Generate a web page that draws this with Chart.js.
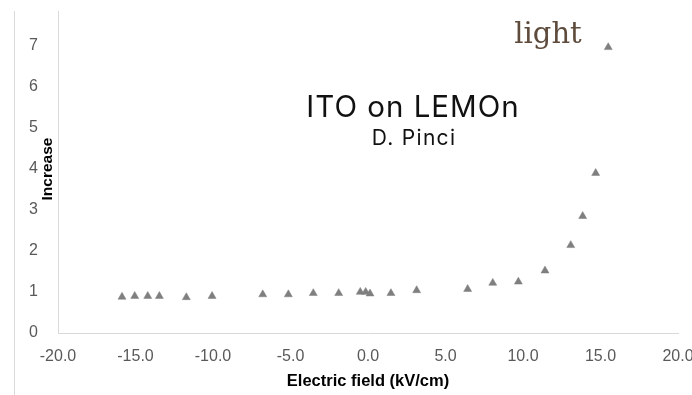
<!DOCTYPE html>
<html>
<head>
<meta charset="utf-8">
<script src="https://cdn.jsdelivr.net/npm/chart.js@4/dist/chart.umd.min.js"></script>
<style>
  html, body { margin: 0; padding: 0; background: #fff; }
  #wrap { position: relative; width: 692px; height: 395px; overflow: hidden; }
  #c { position: absolute; left: 0; top: 0; }
  #mask { position: absolute; left: 0; top: 0; width: 692px; height: 11px; background: #fff; }
  #border { position: absolute; left: 14px; top: 11px; width: 1px; height: 384px; background: #d9d9d9; }
  .t { position: absolute; white-space: nowrap; transform: translate(-50%, -50%); }
  #light { left: 548px; top: 33px; font-family: "DejaVu Serif", serif; font-size: 29px; color: #5e4b3c; }
  #title { left: 413px; top: 106px; font-family: "Inter", sans-serif; font-size: 29.5px; font-weight: 400; letter-spacing: 1px; color: #111; }
  #sub { left: 414px; top: 137px; font-family: "Inter", sans-serif; font-size: 21px; font-weight: 400; letter-spacing: 1.3px; color: #111; }
</style>
</head>
<body>
<div id="wrap">
  <canvas id="c" width="692" height="395"></canvas>
  <div id="mask"></div>
  <div id="border"></div>
  <div class="t" id="light">light</div>
  <div class="t" id="title">ITO on LEMOn</div>
  <div class="t" id="sub">D. Pinci</div>
</div>
<script>
// Electric field (kV/cm)
const fieldValues = [-15.87, -15.05, -14.21, -13.46, -11.72, -10.06, -6.79, -5.14, -3.53, -1.89, -0.50, -0.15, 0.13, 1.48, 3.14, 6.43, 8.05, 9.70, 11.42, 13.08, 13.85, 14.69, 15.50];
// Increase
const increaseValues = [0.88, 0.90, 0.90, 0.90, 0.87, 0.90, 0.94, 0.94, 0.97, 0.97, 1.00, 1.00, 0.96, 0.97, 1.04, 1.07, 1.22, 1.25, 1.52, 2.14, 2.85, 3.90, 6.97];
const xTickMin = -20, xTickMax = 20, xTickStep = 5;
const yTickMin = 0, yTickMax = 8, yTickStep = 1;
const xTitle = "Electric field (kV/cm)";
const yTitle = "Increase";

const points = fieldValues.map((x, i) => ({ x: x, y: increaseValues[i] }));

new Chart(document.getElementById('c'), {
  type: 'scatter',
  data: {
    datasets: [{
      data: points,
      pointStyle: 'triangle',
      pointRadius: 4.6,
      pointBackgroundColor: '#7f7f7f',
      pointBorderColor: '#7f7f7f',
      pointBorderWidth: 0.5
    }]
  },
  options: {
    responsive: false,
    animation: false,
    layout: { padding: { top: 4, right: 14, left: 0, bottom: 0 } },
    plugins: { legend: { display: false }, tooltip: { enabled: false } },
    scales: {
      x: {
        type: 'linear',
        min: xTickMin, max: xTickMax,
        grid: { display: false, drawTicks: false },
        border: { display: true, color: '#d9d9d9', width: 1 },
        ticks: {
          stepSize: xTickStep,
          padding: 14,
          color: '#595959',
          font: { family: 'Liberation Sans', size: 16 },
          maxRotation: 0,
          callback: v => Number(v).toFixed(1)
        },
        title: {
          display: true, text: xTitle, color: '#000',
          font: { family: 'Liberation Sans', size: 16.5, weight: 'bold' },
          padding: { top: 0, bottom: 4 }
        },
        afterFit: s => { s.height = 62; s.paddingLeft = 0; s.paddingRight = 0; }
      },
      y: {
        type: 'linear',
        min: yTickMin, max: yTickMax,
        grid: { display: false, drawTicks: false },
        border: { display: true, color: '#d9d9d9', width: 1 },
        ticks: {
          stepSize: yTickStep,
          padding: 20,
          color: '#595959',
          font: { family: 'Liberation Sans', size: 16 }
        },
        title: {
          display: true, text: yTitle, color: '#000',
          font: { family: 'Liberation Sans', size: 15.5, weight: 'bold' },
          padding: { top: 38, bottom: 0 }
        },
        afterFit: s => { s.width = 58; s.paddingTop = 0; s.paddingBottom = 0; }
      }
    }
  }
});
</script>
</body>
</html>
